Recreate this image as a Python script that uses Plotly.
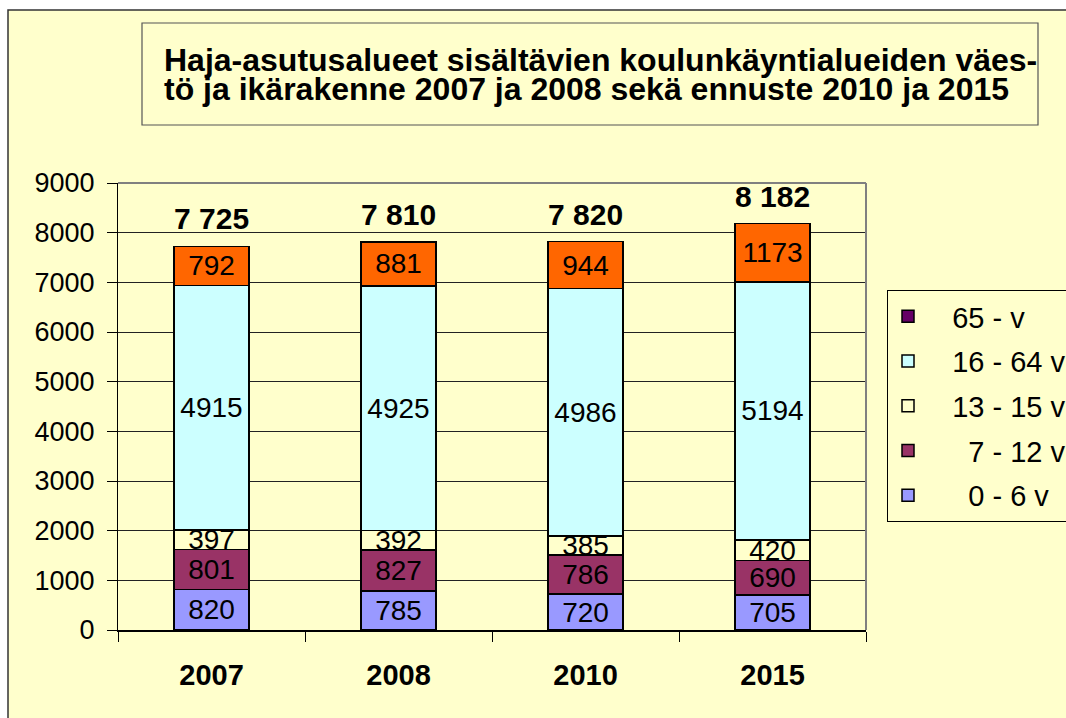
import plotly.graph_objects as go

# ---- data ----
years = ["2007", "2008", "2010", "2015"]
age_0_6 = [820, 785, 720, 705]
age_7_12 = [801, 827, 786, 690]
age_13_15 = [397, 392, 385, 420]
age_16_64 = [4915, 4925, 4986, 5194]
age_65 = [792, 881, 944, 1173]
totals = [7725, 7810, 7820, 8182]

NB = "\u00a0"
series_names = [NB * 5 + "0 - 6 v", NB * 5 + "7 - 12 v", NB * 3 + "13 - 15 v",
                NB * 3 + "16 - 64 v", NB * 3 + "65 - v"]
series_values = [age_0_6, age_7_12, age_13_15, age_16_64, age_65]
series_colors = ["#9999FF", "#993366", "#FFFFCC", "#CCFFFF", "#FF6600"]
legend_65_color = "#660066"

title_line1 = "Haja-asutusalueet sisältävien koulunkäyntialueiden väes-"
title_line2 = "tö ja ikärakenne 2007 ja 2008 sekä ennuste 2010 ja 2015"

FONT = "Liberation Sans, Arial, sans-serif"
BG = "#FFFFCC"

# figure fills the whole window (body margin removed below)
W, H = 1066, 718
L, T = 118, 183
R = W - 866
B = H - 630
PW, PH = W - L - R, H - T - B


def px(x):
    """window pixel x -> paper coordinate"""
    return (x - L) / PW


def py(y):
    """window pixel y -> paper coordinate"""
    return (H - B - y) / PH


fig = go.Figure()

for i, (name, vals, col) in enumerate(zip(series_names, series_values, series_colors)):
    is65 = i == 4
    fig.add_trace(go.Bar(
        x=years, y=vals, name=name,
        marker=dict(color=col, line=dict(color="black", width=1.5)),
        text=[str(v) for v in vals],
        textposition="inside", insidetextanchor="middle",
        textangle=0, constraintext="none",
        textfont=dict(family=FONT, size=28, color="black"),
        width=0.4,
        legendgroup="g%d" % i,
        legendrank=10 - i,
        showlegend=not is65,
    ))

# legend entry for 65 - v (legend colour differs from bar colour in the original)
fig.add_trace(go.Bar(
    x=years, y=[None] * len(years), name=series_names[4],
    marker=dict(color=legend_65_color, line=dict(color="black", width=1.5)),
    legendgroup="g65", legendrank=1, showlegend=True, width=0.4,
))

annotations = []
for idx, tot in enumerate(totals):
    annotations.append(dict(
        x=idx, y=tot, xref="x", yref="y",
        text="<b>%s</b>" % f"{tot:,}".replace(",", " "),
        showarrow=False, yanchor="bottom", yshift=9,
        font=dict(family=FONT, size=30, color="black"),
    ))

annotations.append(dict(
    x=px(162), y=py(60), xref="paper", yref="paper",
    text="<b>%s</b>" % title_line1, showarrow=False,
    xanchor="left", yanchor="middle",
    font=dict(family=FONT, size=32, color="black"),
))
annotations.append(dict(
    x=px(162), y=py(89), xref="paper", yref="paper",
    text="<b>%s</b>" % title_line2, showarrow=False,
    xanchor="left", yanchor="middle",
    font=dict(family=FONT, size=32, color="black"),
))

shapes = [
    # chart area (yellow) with outer border
    dict(type="rect", xref="paper", yref="paper",
         x0=px(8), x1=px(1120), y0=py(10), y1=py(760),
         line=dict(color="#333333", width=1.5), fillcolor=BG, layer="below"),
    # title box
    dict(type="rect", xref="paper", yref="paper",
         x0=px(142), x1=px(1038), y0=py(23), y1=py(125),
         line=dict(color="#555555", width=1.2), fillcolor=BG, layer="below"),
    # plot area top / right border
    dict(type="line", xref="paper", yref="paper", x0=0, x1=1, y0=1, y1=1,
         line=dict(color="#808080", width=2), layer="above"),
    dict(type="line", xref="paper", yref="paper", x0=1, x1=1, y0=0, y1=1,
         line=dict(color="#808080", width=2), layer="above"),
]

fig.update_layout(
    width=W, height=H,
    margin=dict(l=L, r=R, t=T, b=B, pad=0, autoexpand=False),
    paper_bgcolor="white", plot_bgcolor="white",
    barmode="stack", bargap=0.6,
    font=dict(family=FONT, size=27, color="black"),
    showlegend=True,
    legend=dict(
        x=px(887), y=py(290), xanchor="left", yanchor="top",
        bgcolor=BG, bordercolor="black", borderwidth=1,
        font=dict(family=FONT, size=29, color="black"),
        traceorder="grouped", tracegroupgap=4,
        itemwidth=30,
    ),
    annotations=annotations,
    shapes=shapes,
    xaxis=dict(
        type="category", tickson="boundaries", ticks="outside", ticklen=10,
        tickcolor="black", showline=True, linecolor="black", linewidth=1.5,
        showgrid=False, tickfont=dict(family=FONT, size=29, color="black"),
        tickvals=years, ticktext=["<b>%s</b>" % y for y in years],
        ticklabelstandoff=18, automargin=False,
    ),
    yaxis=dict(
        range=[0, 9000], tick0=0, dtick=1000, ticks="outside", ticklen=10,
        tickcolor="black", showline=True, linecolor="black", linewidth=1,
        showgrid=True, gridcolor="#222222", gridwidth=1, zeroline=False,
        tickfont=dict(family=FONT, size=27, color="black"),
        ticklabelstandoff=7, automargin=False,
    ),
)

fig.write_html(
    "out.html",
    config={"displayModeBar": False},
    post_script="document.body.style.margin='0';"
                "document.documentElement.style.overflow='hidden';"
                "document.body.style.overflow='hidden';",
)
